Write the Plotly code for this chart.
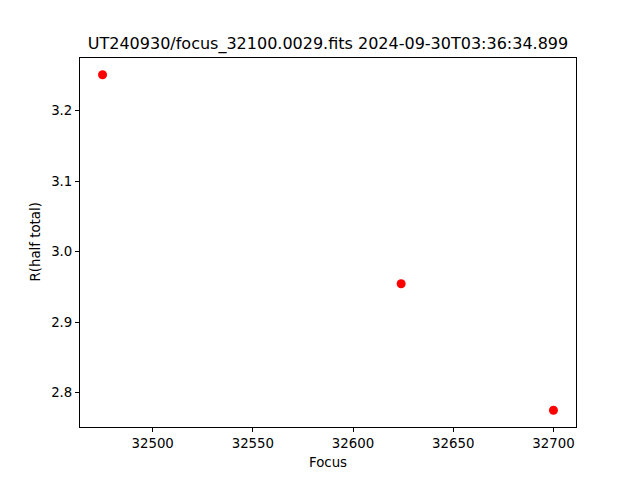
import plotly.graph_objects as go

focus = [32475, 32624, 32700]
r_half = [3.251, 2.9545, 2.775]
x_ticks = [32500, 32550, 32600, 32650, 32700]
y_ticks = [2.8, 2.9, 3.0, 3.1, 3.2]
title = "UT240930/focus_32100.0029.fits 2024-09-30T03:36:34.899"

xpad = (max(focus) - min(focus)) * 0.05
ypad = (max(r_half) - min(r_half)) * 0.05

fig = go.Figure(go.Scatter(x=focus, y=r_half, mode="markers",
                           marker=dict(color="#ff0000", size=9, line=dict(width=0))))

font = dict(family="DejaVu Sans", size=13.33, color="black")
fig.update_layout(
    width=640, height=480,
    margin=dict(l=80, r=64, t=58, b=53),
    paper_bgcolor="white", plot_bgcolor="white",
    showlegend=False,
    font=font,
    title=dict(text=title, x=0.5, xref="paper", y=1 - 43.5 / 480, yref="container",
               xanchor="center", yanchor="middle", font=dict(family="DejaVu Sans", size=16, color="black")),
    xaxis=dict(range=[min(focus) - xpad, max(focus) + xpad], tickvals=x_ticks,
               ticktext=[str(v) for v in x_ticks],
               showgrid=False, zeroline=False, showline=True, linecolor="black", linewidth=1,
               mirror=True, ticks="outside", ticklen=4, tickwidth=1, tickcolor="black",
               tickfont=font),
    yaxis=dict(range=[min(r_half) - ypad, max(r_half) + ypad], tickvals=y_ticks,
               ticktext=[f"{v:.1f}" for v in y_ticks],
               showgrid=False, zeroline=False, showline=True, linecolor="black", linewidth=1,
               mirror=True, ticks="outside", ticklen=4, tickwidth=1, tickcolor="black",
               tickfont=font),
    annotations=[
        dict(text="Focus", xref="paper", yref="paper", x=0.5, y=0, yshift=-35,
             showarrow=False, xanchor="center", yanchor="middle", font=font),
        dict(text="R(half total)", xref="paper", yref="paper", x=0, y=0.5, xshift=-45,
             showarrow=False, xanchor="center", yanchor="middle", textangle=-90, font=font),
    ],
)

fig.write_html("out.html", config={"displayModeBar": False},
               post_script="document.body.style.margin='0';")
